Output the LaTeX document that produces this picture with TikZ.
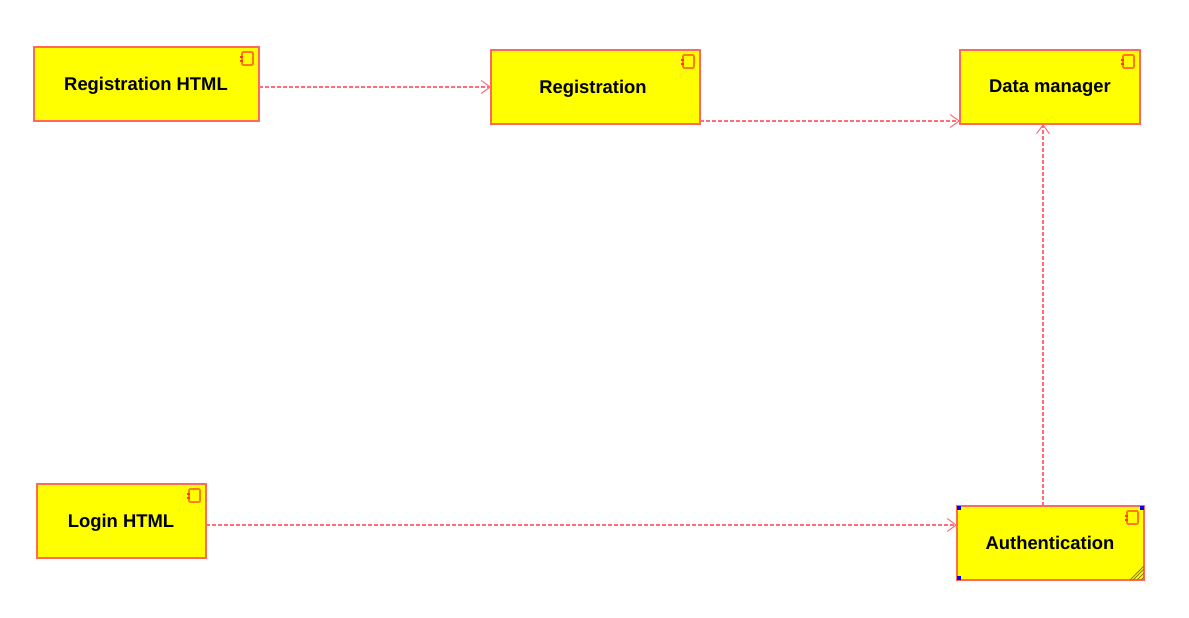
\documentclass[tikz,border=0pt]{standalone}
\usepackage{fontspec}
\setmainfont{Liberation Sans}
\usetikzlibrary{arrows.meta}
\definecolor{compFill}{RGB}{255,255,0}
\definecolor{edgeRed}{RGB}{255,105,90}
\definecolor{lineRed}{RGB}{255,110,120}
\definecolor{iconOr}{RGB}{255,122,16}
\definecolor{notchRed}{RGB}{255,60,16}
\definecolor{hatch}{RGB}{138,122,32}
\definecolor{handleBlue}{RGB}{0,0,255}
\tikzset{
  comp/.style={draw=edgeRed,fill=compFill,line width=1.1pt,minimum height=74pt,inner sep=0pt,outer sep=0pt,anchor=north west},
  lab/.style={font=\fontsize{18.4}{20}\selectfont\bfseries,text=black},
  dep/.style={draw=lineRed,line width=1.2pt,dash pattern=on 4pt off 2pt,
    -{Straight Barb[length=9pt,width=13pt,line width=1pt]}},
  icon/.style={draw=iconOr,line width=1.6pt,rounded corners=1pt},
  notch/.style={fill=notchRed,draw=none},
  handle/.style={fill=handleBlue,draw=none},
  hatchline/.style={draw=hatch,line width=0.9pt}
}
\begin{document}
\begin{tikzpicture}[x=1pt,y=-1pt]
\useasboundingbox (0,0) rectangle (1189,618);
\node[comp,minimum width=225pt] (rh) at (34,47) {};
\node[comp,minimum width=209pt] (reg) at (491,50) {};
\node[comp,minimum width=180pt] (dm) at (960,50) {};
\node[comp,minimum width=169pt] (lg) at (37,484) {};
\node[comp,minimum width=187pt] (au) at (957,506) {};
\node[lab] (t1) at (146,85.5) {Registration HTML};
\node[lab] (t2) at (593,88.5) {Registration};
\node[lab] (t3) at (1050,88.5) {Data manager};
\node[lab] (t4) at (121,522.5) {Login HTML};
\node[lab] (t5) at (1050,542.5) {Authentication};
\foreach \n in {rh,reg,dm,lg,au}{
  \draw[icon] ([xshift=-17pt,yshift=-5pt]\n.north east) rectangle ([xshift=-6pt,yshift=-18pt]\n.north east);
  \fill[notch] ([xshift=-19pt,yshift=-9pt]\n.north east) rectangle ([xshift=-16pt,yshift=-11pt]\n.north east);
  \fill[notch] ([xshift=-19pt,yshift=-13pt]\n.north east) rectangle ([xshift=-16pt,yshift=-15pt]\n.north east);
}
\draw[dep] ([yshift=-3pt]rh.east) -- (reg.west);
\draw[dep] ([yshift=-34pt]reg.east) -- ([yshift=-34pt]dm.west);
\draw[dep] ([yshift=-4pt]lg.east) -- ([yshift=18pt]au.west);
\draw[dep] ([xshift=-7.5pt]au.north) -- ([xshift=-7pt]dm.south);
\foreach \d in {3,7,11,14}{
  \draw[hatchline] ([xshift=-\d pt]au.south east) -- ([yshift=\d pt]au.south east);
}
\fill[handle] ([yshift=0pt]au.north west) rectangle ([xshift=4pt,yshift=-4pt]au.north west);
\fill[handle] ([xshift=-4pt]au.north east) rectangle ([yshift=-4pt]au.north east);
\fill[handle] ([yshift=4pt]au.south west) rectangle ([xshift=4pt]au.south west);
\end{tikzpicture}
\end{document}
